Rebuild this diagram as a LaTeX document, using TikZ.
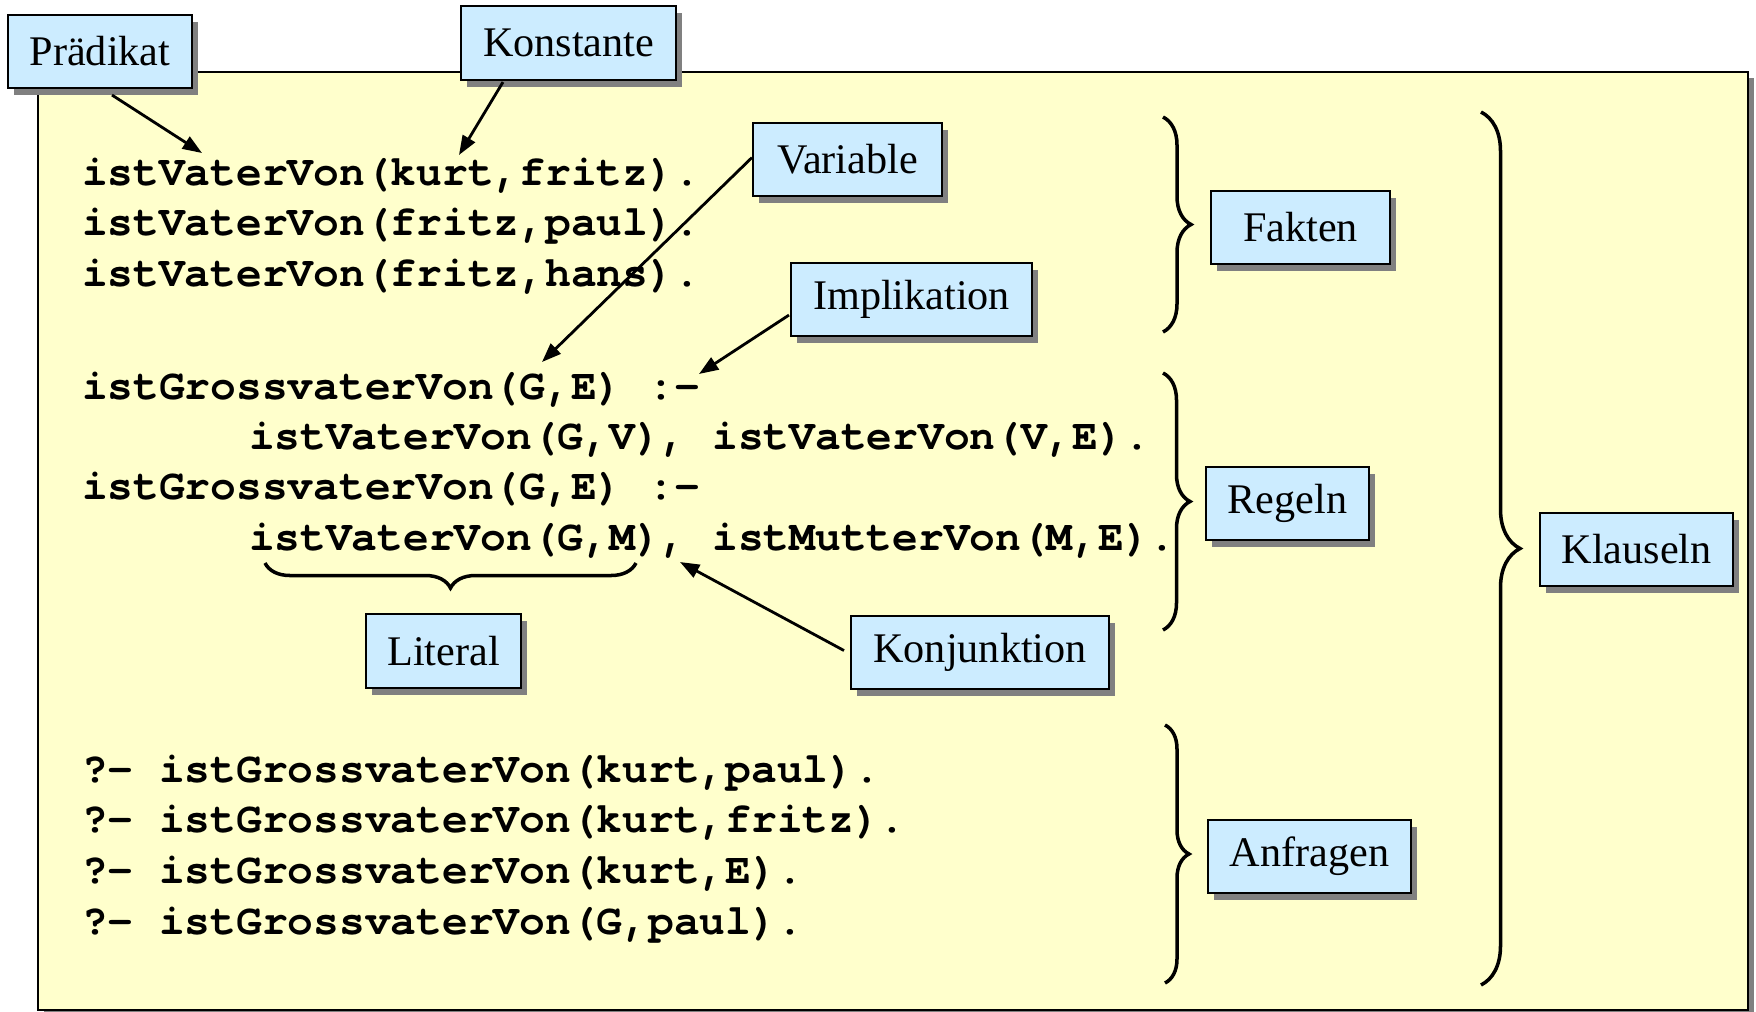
\documentclass[tikz,border=0pt]{standalone}
\usepackage{fontspec}
\setmainfont{Liberation Serif}
\newfontfamily\cursorfont{texgyrecursor}[Extension=.otf, UprightFont=*-regular, BoldFont=*-bold]
\usetikzlibrary{arrows.meta,calc,decorations.pathreplacing,shadows}
\definecolor{paper}{HTML}{FFFFCC}
\definecolor{tag}{HTML}{CCECFF}
\definecolor{shade}{HTML}{808080}

\begin{document}
\begin{tikzpicture}[x=0.01cm,y=-0.01cm,
  tagbox/.style={draw=black, line width=0.7pt, fill=tag, inner sep=0pt, outer sep=0pt,
    anchor=north west, font=\fontsize{12}{14}\selectfont,
    drop shadow={shadow xshift=1.8pt, shadow yshift=-1.9pt, fill=shade, opacity=1}},
  code/.style={anchor=base west, inner sep=0pt, outer sep=0pt,
    font=\fontsize{12.2}{14}\selectfont\cursorfont\bfseries},
  arr/.style={line width=0.8pt, -{Triangle[length=5.5pt,width=4pt]}},
  curly/.style={line width=1pt, decorate, decoration={brace, amplitude=#1}},
]
\useasboundingbox (0,0) rectangle (1756,1011);

% sheet
\draw[line width=0.7pt, fill=paper,
  drop shadow={shadow xshift=1.7pt, shadow yshift=-1.7pt, fill=shade, opacity=1}]
  (38,72) rectangle (1748,1010);

% Prolog program: facts
\node[code] (f1) at (82,185) {istVaterVon(kurt,fritz).};
\node[code] (f2) at (82,235) {istVaterVon(fritz,paul).};
\node[code] (f3) at (82,286) {istVaterVon(fritz,hans).};
% rules
\node[code] (r1) at (82,399) {istGrossvaterVon(G,E) :-};
\node[code] (r2) at (249,449) {istVaterVon(G,V), istVaterVon(V,E).};
\node[code] (r3) at (82,499) {istGrossvaterVon(G,E) :-};
\node[code] (r4) at (249,550) {istVaterVon(G,M), istMutterVon(M,E).};
% queries
\node[code] (q1) at (82,782) {?- istGrossvaterVon(kurt,paul).};
\node[code] (q2) at (82,832) {?- istGrossvaterVon(kurt,fritz).};
\node[code] (q3) at (82,883) {?- istGrossvaterVon(kurt,E).};
\node[code] (q4) at (82,934) {?- istGrossvaterVon(G,paul).};

% braces
\draw[curly=0.28cm] (1163,117) -- (1163,332);
\draw[curly=0.27cm] (1163,373) -- (1163,630);
\draw[curly=0.24cm] (1165,725) -- (1165,983);
\draw[curly=0.39cm] (1481,112) -- (1481,985);
\draw[curly=0.25cm, decoration={mirror}] (265,563) -- (636,563);

% labels
\node[tagbox, minimum width=1.84cm, minimum height=0.73cm] (prad) at (8,15) {Prädikat};
\node[tagbox, minimum width=2.15cm, minimum height=0.74cm] (konst) at (461,6) {Konstante};
\node[tagbox, minimum width=1.89cm, minimum height=0.73cm] (var) at (753,123) {Variable};
\node[tagbox, minimum width=2.41cm, minimum height=0.73cm] (impl) at (791,263) {Implikation};
\node[tagbox, minimum width=1.79cm, minimum height=0.73cm] (fakt) at (1211,191) {Fakten\hspace{0.24cm}};
\node[tagbox, minimum width=1.63cm, minimum height=0.73cm] (regeln) at (1206,467) {Regeln};
\node[tagbox, minimum width=1.93cm, minimum height=0.73cm] (klaus) at (1540,513) {Klauseln};
\node[tagbox, minimum width=1.55cm, minimum height=0.74cm] (lit) at (366,614) {Literal};
\node[tagbox, minimum width=2.58cm, minimum height=0.73cm] (konj) at (851,616) {Konjunktion};
\node[tagbox, minimum width=2.03cm, minimum height=0.73cm] (anfr) at (1208,820) {Anfragen};

% arrow targets in the program text
\coordinate (pradT) at (202,153);
\coordinate (konstT) at (459,155);
\coordinate (varT) at (542,362);
\coordinate (implT) at (699,374);
\coordinate (konjT) at (680,562);

% arrows
\draw[arr] ($(prad.south west)+(104,7)$) -- (pradT);
\draw[arr] ($(konst.south west)+(42,2)$) -- (konstT);
\draw[arr] ($(var.west)+(-1,-2)$) -- (varT);
\draw[arr] ($(impl.south west)+(-2,-21)$) -- (implT);
\draw[arr] ($(konj.west)+(-7,-2)$) -- (konjT);
\end{tikzpicture}
\end{document}
